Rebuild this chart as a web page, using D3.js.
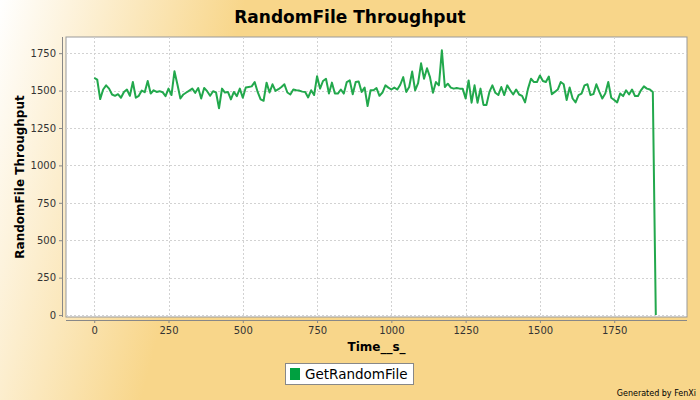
<!DOCTYPE html>
<html><head><meta charset="utf-8">
<script src="https://cdn.jsdelivr.net/npm/d3@7"></script>
<style>body{margin:0;padding:0;overflow:hidden}svg{display:block}</style>
</head><body>
<svg id="chart" width="700" height="400"></svg>
<script>
// ---- data ----
const chartTitle = "RandomFile Throughput";
const xLabel = "Time__s_";
const yLabel = "RandomFile Throughput";
const seriesName = "GetRandomFile";
const timeStep = 10; // seconds between samples
const throughput = [
  1585,1574,1443,1507,1535,1513,1474,1465,1476,1452,
  1491,1507,1465,1557,1452,1465,1500,1489,1564,1480,
  1502,1491,1496,1489,1463,1513,1470,1629,1540,1447,
  1474,1487,1500,1513,1485,1517,1447,1517,1496,1465,
  1496,1487,1382,
  1513,1487,1491,1441,1491,1463,1513,1452,1520,1524,
  1528,1557,1491,1441,1432,1553,1487,1542,1498,1509,
  1524,1542,1487,1474,1507,1502,1500,1493,1491,1454,
  1502,1470,1596,1513,1564,1579,1480,1553,1480,1480,
  1507,1480,1557,1568,1476,1557,1561,1491,1520,1397,
  1502,1502,1517,1465,1487,1535,1520,1507,1520,1507,
  1539,1590,1491,1524,1627,1502,1550,1682,1579,1649,
  1590,1485,1557,1535,1769,1524,1546,1520,1513,1517,
  1513,1513,1447,1568,1419,1535,1419,1513,1404,1404,
  1491,1535,1485,1470,1524,1470,1535,1502,1474,1507,
  1474,1465,1421,1513,1579,1557,1557,1601,1564,1557,
  1594,1476,1491,1507,1557,1542,1437,1520,1447,1421,
  1470,1480,1535,1542,1470,1476,1542,1491,1447,1480,
  1557,1452,1437,1421,1480,1463,1502,1474,1507,1463,
  1463,1502,1528,1513,1507,1491,0
];
const times = throughput.map((_, i) => i * timeStep);
const xTicks = [0, 250, 500, 750, 1000, 1250, 1500, 1750];
const yTicks = [0, 250, 500, 750, 1000, 1250, 1500, 1750];
const xDomain = [-95, 1995];
const yDomain = [-13, 1858];

// ---- drawing ----
const svg = d3.select("#chart");
const W = 700, H = 400;
const plot = {left: 66, right: 687, top: 37, bottom: 317};

const defs = svg.append("defs");
const grad = defs.append("linearGradient").attr("id", "bg")
  .attr("gradientUnits", "userSpaceOnUse")
  .attr("x1", 0).attr("y1", 0).attr("x2", 230).attr("y2", 60);
grad.append("stop").attr("offset", "0%").attr("stop-color", "#ffffff");
grad.append("stop").attr("offset", "100%").attr("stop-color", "#f8d68a");
svg.append("rect").attr("width", W).attr("height", H).attr("fill", "url(#bg)");

svg.append("text").attr("x", 350).attr("y", 23).attr("text-anchor", "middle")
  .attr("font-family", "DejaVu Sans").attr("font-weight", "bold").attr("font-size", 17)
  .attr("fill", "#000").text(chartTitle);

const x = d3.scaleLinear().domain(xDomain).range([plot.left, plot.right]);
const y = d3.scaleLinear().domain(yDomain).range([plot.bottom, plot.top]);

svg.append("rect").attr("x", plot.left).attr("y", plot.top)
  .attr("width", plot.right - plot.left).attr("height", plot.bottom - plot.top)
  .attr("fill", "#fff").attr("stroke", "#999").attr("stroke-width", 1);

const grid = svg.append("g");
grid.selectAll("line.v").data(xTicks).join("line")
  .attr("x1", d => Math.round(x(d)) + 0.5).attr("x2", d => Math.round(x(d)) + 0.5)
  .attr("y1", plot.top).attr("y2", plot.bottom)
  .attr("stroke", "#d2d2d2").attr("stroke-dasharray", "2,2");
grid.selectAll("line.h").data(yTicks).join("line")
  .attr("y1", d => Math.round(y(d)) + 0.5).attr("y2", d => Math.round(y(d)) + 0.5)
  .attr("x1", plot.left).attr("x2", plot.right)
  .attr("stroke", "#d2d2d2").attr("stroke-dasharray", "2,2");

const line = d3.line().x((d, i) => x(times[i])).y(d => y(d));
svg.append("path").datum(throughput).attr("d", line)
  .attr("fill", "none").attr("stroke", "#22a84c").attr("stroke-width", 2)
  .attr("stroke-linejoin", "round");

// axes
const fmt = d3.format("d");
const xAxis = d3.axisBottom(x).tickValues(xTicks).tickFormat(fmt).tickSize(3).tickPadding(4);
const gx = svg.append("g").attr("transform", `translate(0,${plot.bottom + 3})`).call(xAxis);
const yAxis = d3.axisLeft(y).tickValues(yTicks).tickFormat(fmt).tickSize(3).tickPadding(3);
const gy = svg.append("g").attr("transform", `translate(${plot.left - 4},0)`).call(yAxis);
[gx, gy].forEach(g => {
  g.select(".domain").attr("stroke", "#888");
  g.selectAll(".tick line").attr("stroke", "#888");
  g.selectAll(".tick text").attr("font-family", "DejaVu Sans").attr("font-size", 10).attr("fill", "#333");
});
gx.select(".domain").attr("d", `M${plot.left},0.5H${plot.right}`);
gy.select(".domain").attr("d", `M0.5,${plot.top}V${plot.bottom}`);

svg.append("text").attr("x", (plot.left + plot.right) / 2).attr("y", 351)
  .attr("text-anchor", "middle").attr("font-family", "DejaVu Sans").attr("font-weight", "bold")
  .attr("font-size", 12).attr("fill", "#000").text(xLabel);
svg.append("text").attr("transform", `translate(24,${(plot.top + plot.bottom) / 2}) rotate(-90)`)
  .attr("text-anchor", "middle").attr("font-family", "DejaVu Sans").attr("font-weight", "bold")
  .attr("font-size", 12).attr("fill", "#000").text(yLabel);

// legend
const lg = svg.append("g");
lg.append("rect").attr("x", 285.5).attr("y", 363.5).attr("width", 128).attr("height", 21)
  .attr("fill", "#fff").attr("stroke", "#888");
lg.append("rect").attr("x", 290).attr("y", 368).attr("width", 10).attr("height", 12).attr("fill", "#00a040");
lg.append("text").attr("x", 305).attr("y", 379).attr("font-family", "DejaVu Sans")
  .attr("font-size", 13.5).attr("fill", "#000").text(seriesName);

svg.append("text").attr("x", 696).attr("y", 396).attr("text-anchor", "end")
  .attr("font-family", "DejaVu Sans").attr("font-size", 8).attr("fill", "#000").text("Generated by FenXi");
</script>
</body></html>
